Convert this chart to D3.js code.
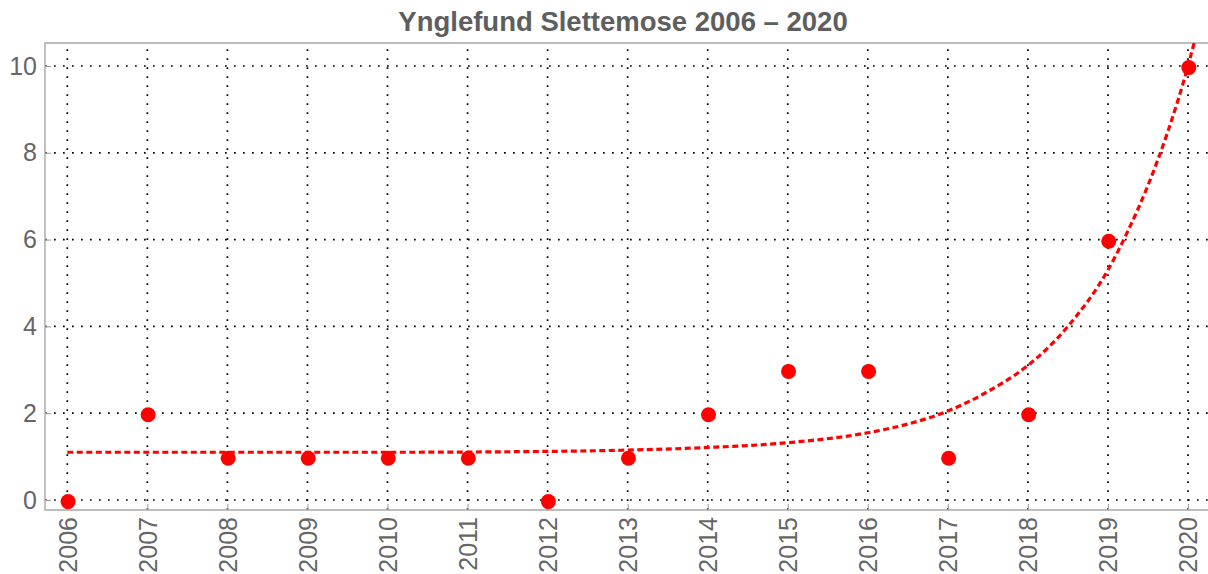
<!DOCTYPE html>
<html>
<head>
<meta charset="utf-8">
<script src="https://cdn.jsdelivr.net/npm/d3@7"></script>
<style>
  html, body { margin: 0; padding: 0; background: #fff; }
  svg { display: block; }
</style>
</head>
<body>
<svg id="chart" width="1208" height="574"></svg>
<script>
// ---- data ----
const titleText = "Ynglefund Slettemose 2006 \u2013 2020";
const years = [2006, 2007, 2008, 2009, 2010, 2011, 2012, 2013, 2014, 2015, 2016, 2017, 2018, 2019, 2020];
const counts = [0, 2, 1, 1, 1, 1, 0, 1, 2, 3, 3, 1, 2, 6, 10];
// dashed trend curve
const trendYears = [2006, 2008, 2010, 2012, 2013, 2014, 2015, 2016, 2016.5, 2017, 2017.5, 2018, 2018.5, 2019, 2019.25, 2019.5, 2019.75, 2020, 2020.1];
const trendValues = [1.10, 1.10, 1.10, 1.12, 1.15, 1.21, 1.32, 1.55, 1.75, 2.05, 2.50, 3.10, 4.00, 5.30, 6.20, 7.25, 8.50, 10.0, 10.7];
const yTicks = [0, 2, 4, 6, 8, 10];
const xTicks = years;

// ---- layout ----
const svg = d3.select("#chart");
const frame = { left: 45, right: 1212, top: 43, bottom: 510 };
const x = d3.scaleLinear().domain([2006, 2020]).range([67.3, 1188.0]);
const y = d3.scaleLinear().domain([0, 10]).range([500, 66]);

const labelColor = "#666666";
const font = "'Liberation Sans', Arial, Helvetica, sans-serif";

// clip
svg.append("defs").append("clipPath").attr("id", "plotClip")
  .append("rect")
  .attr("x", frame.left).attr("y", frame.top)
  .attr("width", frame.right - frame.left).attr("height", frame.bottom - frame.top);

// grid
const grid = svg.append("g");
grid.selectAll("line.v").data(xTicks).join("line")
  .attr("x1", d => x(d)).attr("x2", d => x(d))
  .attr("y1", frame.bottom).attr("y2", frame.top)
  .attr("stroke", "#000").attr("stroke-width", 1.7)
  .attr("stroke-dasharray", "1.7,7.3");
grid.selectAll("line.h").data(yTicks).join("line")
  .attr("y1", d => y(d)).attr("y2", d => y(d))
  .attr("x1", frame.left).attr("x2", frame.right)
  .attr("stroke", "#000").attr("stroke-width", 1.7)
  .attr("stroke-dasharray", "1.7,7.3");

// axes
const yAxis = d3.axisLeft(y).tickValues(yTicks).tickSizeInner(-6).tickSizeOuter(0).tickPadding(8);
const gy = svg.append("g").attr("transform", `translate(${frame.left},0)`).call(yAxis);
gy.select(".domain").remove();
gy.selectAll(".tick line").attr("stroke", "#999").attr("stroke-width", 1);
gy.selectAll(".tick text").attr("fill", labelColor).attr("font-size", 25).attr("font-family", font);

const xAxis = d3.axisBottom(x).tickValues(xTicks).tickFormat(d3.format("d")).tickSizeInner(-6).tickSizeOuter(0);
const gx = svg.append("g").attr("transform", `translate(0,${frame.bottom})`).call(xAxis);
gx.select(".domain").remove();
gx.selectAll(".tick line").attr("stroke", "#999").attr("stroke-width", 1);
gx.selectAll(".tick text")
  .attr("fill", labelColor).attr("font-size", 25).attr("font-family", font)
  .attr("transform", "rotate(-90)")
  .attr("text-anchor", "end")
  .attr("x", -7).attr("y", 0).attr("dy", "0.35em");

// frame
svg.append("path")
  .attr("d", `M${frame.right},${frame.top}H${frame.left}V${frame.bottom}H${frame.right}`)
  .attr("fill", "none").attr("stroke", "#a8a8a8").attr("stroke-width", 1.4);

// trend curve
const line = d3.line().x((d, i) => x(trendYears[i])).y(d => y(d)).curve(d3.curveMonotoneX);
svg.append("path")
  .attr("clip-path", "url(#plotClip)")
  .attr("d", line(trendValues))
  .attr("fill", "none").attr("stroke", "#ff0000").attr("stroke-width", 3.2)
  .attr("stroke-dasharray", "6,3.5");

// points
svg.append("g").selectAll("circle").data(counts).join("circle")
  .attr("cx", (d, i) => x(years[i]) + 0.8)
  .attr("cy", d => y(d) + 1.6)
  .attr("r", 7.5)
  .attr("fill", "#ff0000");

// title
svg.append("text")
  .attr("x", 623).attr("y", 31)
  .attr("text-anchor", "middle")
  .attr("font-family", font).attr("font-weight", "bold").attr("font-size", 27.5)
  .attr("fill", "#5e5e5e")
  .text(titleText);
</script>
</body>
</html>
